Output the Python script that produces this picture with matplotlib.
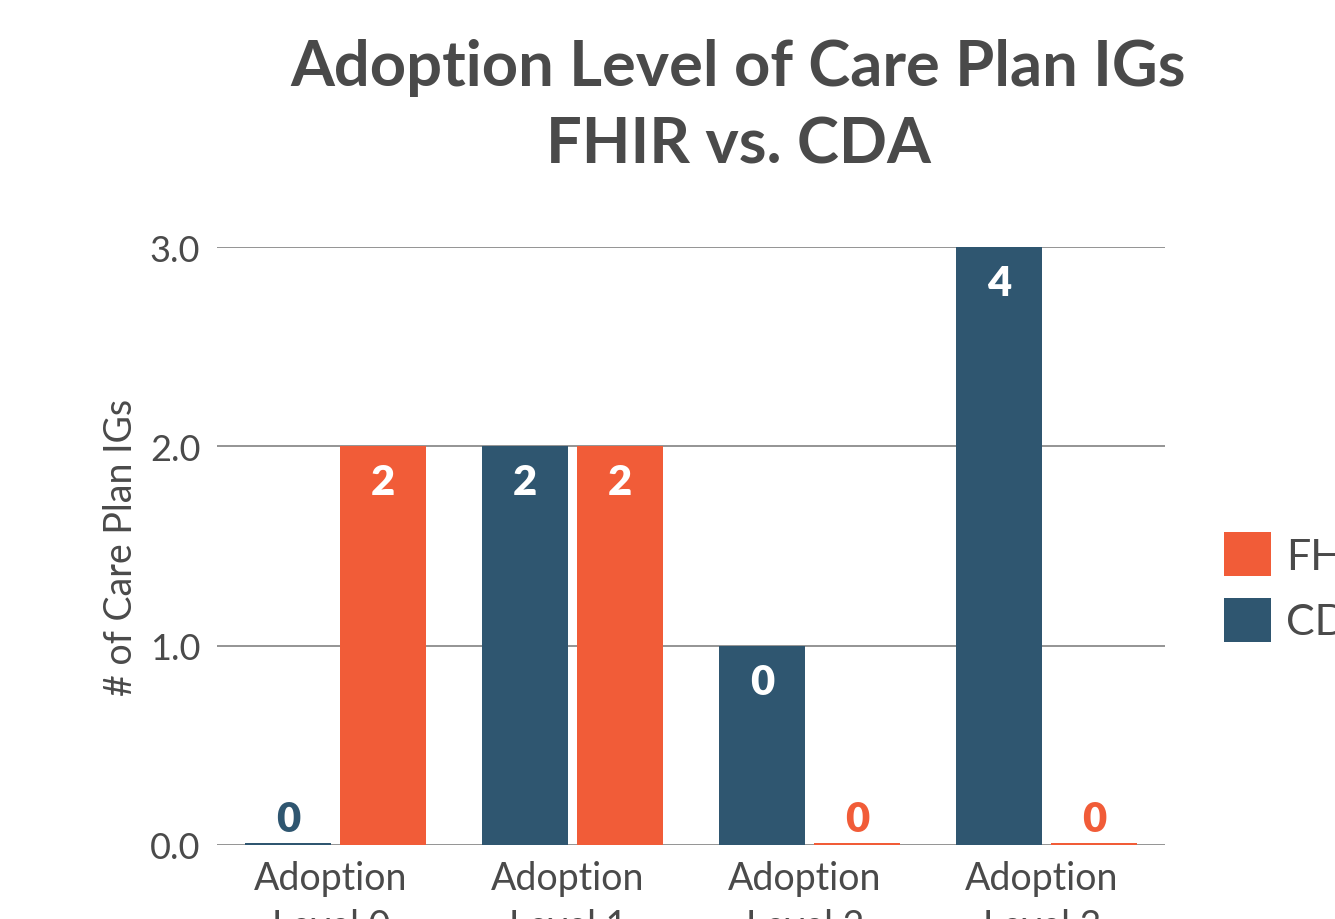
import matplotlib
matplotlib.use("Agg")
import matplotlib.pyplot as plt
import numpy as np
from matplotlib.patches import Patch

categories = ["Adoption\nLevel 0", "Adoption\nLevel 1", "Adoption\nLevel 2", "Adoption\nLevel 3"]
cda_values = [0, 2, 1, 4]
fhir_values = [2, 2, 0, 0]
cda_labels = ["0", "2", "0", "4"]
fhir_labels = ["2", "2", "0", "0"]
yticks = [0.0, 1.0, 2.0, 3.0]

ORANGE = "#F15C38"
NAVY = "#2F5670"
TEXT = "#4a4a4a"
GRID = "#777777"

plt.rcParams["font.family"] = ["Lato", "DejaVu Sans"]

fig = plt.figure(figsize=(13.35, 9.2), dpi=100)
ax = fig.add_axes([217/1335, 1 - 846/920, (1165-217)/1335, (846-248)/920])

x = np.arange(len(categories))
w = 0.36
off = 0.2
ymax = 3.0
minh = 0.012

cda_h = [max(v, minh) for v in cda_values]
fhir_h = [max(v, minh) for v in fhir_values]
ax.bar(x - off, cda_h, w, color=NAVY, zorder=3)
ax.bar(x + off, fhir_h, w, color=ORANGE, zorder=3)

def put_labels(xs, vals, labs, color):
    for xi, v, lab in zip(xs, vals, labs):
        if v > 0:
            ax.text(xi, min(v, ymax) - 0.18, lab, ha="center", va="center",
                    color="white", fontsize=30, fontweight="heavy", zorder=4)
        else:
            ax.text(xi, 0.13, lab, ha="center", va="center",
                    color=color, fontsize=30, fontweight="heavy", zorder=4)

put_labels(x - off, cda_values, cda_labels, NAVY)
put_labels(x + off, fhir_values, fhir_labels, ORANGE)

ax.set_xlim(-0.5, len(categories) - 0.5)
ax.set_ylim(0, ymax)
ax.set_yticks(yticks)
ax.set_yticklabels([f"{t:.1f}" for t in yticks])
ax.set_xticks(x - 0.02)
ax.set_xticklabels(categories, linespacing=1.4)
ax.tick_params(axis="y", length=0, pad=12, labelsize=26, labelcolor=TEXT)
ax.tick_params(axis="x", length=0, pad=11, labelsize=27, labelcolor=TEXT)
ax.grid(axis="y", color=GRID, linewidth=1.1, zorder=1)
for s in ax.spines.values():
    s.set_visible(False)

ax.set_ylabel("# of Care Plan IGs", fontsize=27, color=TEXT, labelpad=8)

fig.text(738/1335, 1 - 68/920, "Adoption Level of Care Plan IGs", ha="center", va="center",
         fontsize=45.5, fontweight="bold", color=TEXT)
fig.text(738/1335, 1 - 145/920, "FHIR vs. CDA", ha="center", va="center",
         fontsize=45.5, fontweight="bold", color=TEXT)

handles = [Patch(facecolor=ORANGE, label="FHIR"), Patch(facecolor=NAVY, label="CDA")]
fig.legend(handles=handles, loc="upper left", bbox_to_anchor=(1207/1335, 1 - 516/920),
           frameon=False, fontsize=31, labelcolor=TEXT, handlelength=1.08, handleheight=1.2,
           handletextpad=0.35, labelspacing=0.5, borderaxespad=0)

fig.savefig("out.png", dpi=100)
